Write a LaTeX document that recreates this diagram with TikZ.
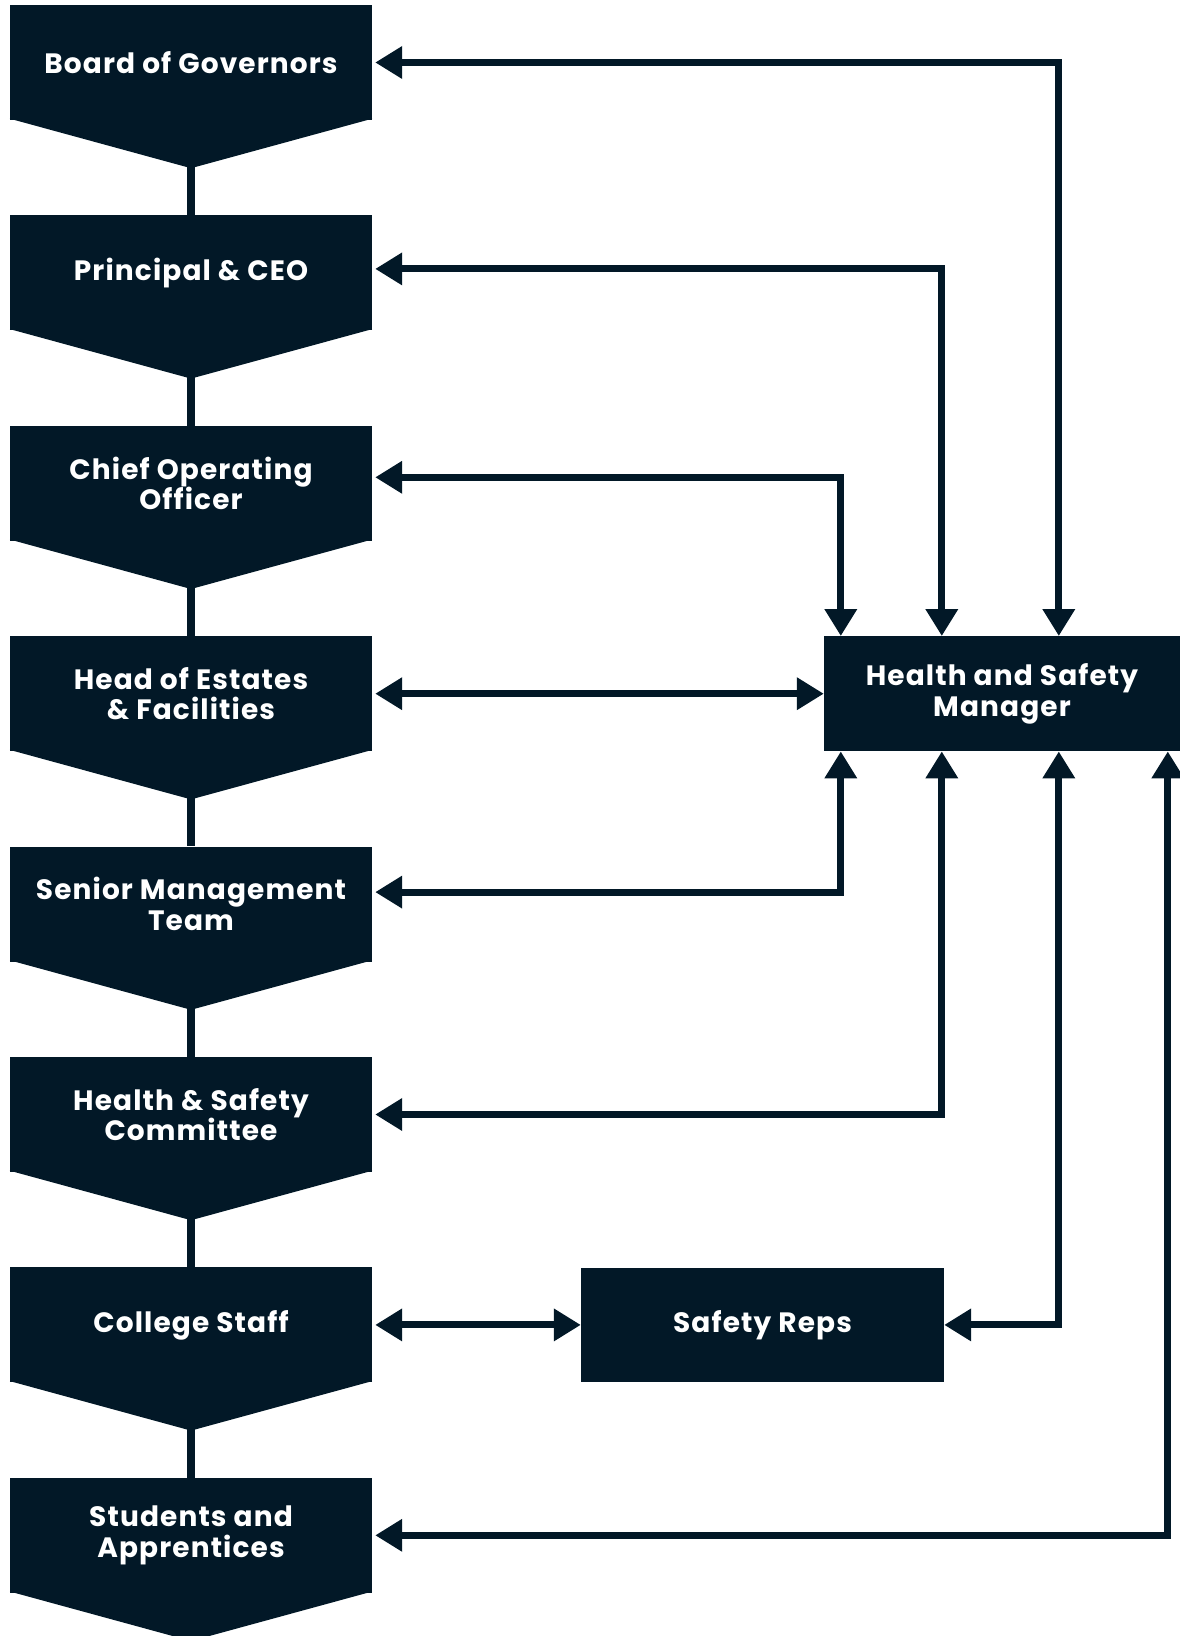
\documentclass[tikz,border=0pt]{standalone}
\usepackage{fontspec}
\setmainfont{Poppins}[LetterSpace=4.0]
\usetikzlibrary{arrows.meta}
\definecolor{navy}{HTML}{021827}
\begin{document}
\begin{tikzpicture}[x=1pt,y=-1pt,
  lbl/.style={fill=navy, inner sep=0pt, text=white, align=center,
    font=\fontsize{28}{30.5}\selectfont\bfseries},
  chev/.style={lbl, minimum width=362pt, minimum height=115pt},
  link/.style={draw=navy, line width=7.5pt},
  dbl/.style={draw=navy, line width=7pt,
    {Triangle[width=31pt,length=27pt]}-{Triangle[width=31pt,length=27pt]}}]
\useasboundingbox (0,0) rectangle (1180,1636);
\node[chev] (b1) at (191,62.5) {Board of Governors};
\node[chev] (b2) at (191,272.9) {Principal \& CEO};
\node[chev] (b3) at (191,483.3) {Chief Operating\\Officer};
\node[chev] (b4) at (191,693.7) {Head of Estates\\\& Facilities};
\node[chev] (b5) at (191,904.1) {Senior Management\\Team};
\node[chev] (b6) at (191,1114.5) {Health \& Safety\\Committee};
\node[chev] (b7) at (191,1324.9) {College Staff};
\node[chev] (b8) at (191,1535.3) {Students and\\Apprentices};
\foreach \n in {b1,b2,b3,b4,b5,b6,b7,b8}
  \fill[navy] ([yshift=1.5pt]\n.south west) -- ([yshift=1.5pt]\n.south east) -- ([yshift=-48pt]\n.south) -- cycle;
\foreach \a/\b in {b1/b2,b2/b3,b3/b4,b4/b5,b5/b6,b6/b7,b7/b8}
  \draw[link] ([yshift=-46pt]\a.south) -- (\b.north);
\node[lbl, minimum width=356pt, minimum height=115pt] (hsm) at (1002,693.7) {Health and Safety\\Manager};
\node[lbl, minimum width=363pt, minimum height=114pt] (reps) at (762.5,1324.9) {Safety Reps};
\draw[dbl] ([xshift=235pt]hsm.north west) |- ([xshift=3pt]b1.east);
\draw[dbl] ([xshift=118pt]hsm.north west) |- ([xshift=3pt,yshift=4pt]b2.east);
\draw[dbl] ([xshift=17pt]hsm.north west) |- ([xshift=3pt,yshift=6pt]b3.east);
\draw[dbl] ([xshift=3pt]b4.east) -- (hsm.west);
\draw[dbl] ([xshift=17pt]hsm.south west) |- ([xshift=3pt,yshift=12pt]b5.east);
\draw[dbl] ([xshift=118pt]hsm.south west) |- ([xshift=3pt]b6.east);
\draw[dbl] ([xshift=235pt]hsm.south west) |- (reps.east);
\draw[dbl] ([xshift=3pt]b7.east) -- (reps.west);
\draw[dbl] ([xshift=344pt]hsm.south west) |- ([xshift=3pt]b8.east);
\end{tikzpicture}
\end{document}
